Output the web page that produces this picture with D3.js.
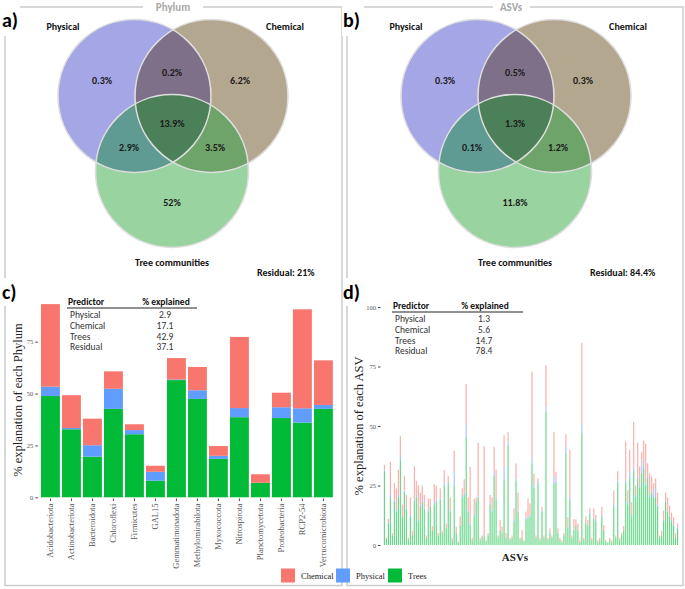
<!DOCTYPE html>
<html>
<head>
<meta charset="utf-8">
<script src="https://cdn.jsdelivr.net/npm/d3@7"></script>
<style>
  body { margin: 0; background: #fff; }
  svg text { font-family: Carlito, "Liberation Sans Narrow", Lato, sans-serif; }
  svg .serif { font-family: "Liberation Serif", "DejaVu Serif", serif; }
</style>
</head>
<body>
<svg id="fig" width="685" height="589"></svg>
<script>
// ---- data ----
// Venn region values: physical only, phys&chem, chemical only, all three, phys&trees, chem&trees, trees only
const vennRegions = ['phys', 'physChem', 'chem', 'all', 'physTree', 'chemTree', 'tree'];
const phylumVenn = ['0.3%', '0.2%', '6.2%', '13.9%', '2.9%', '3.5%', '52%'];
const asvVenn = ['0.3%', '0.5%', '0.3%', '1.3%', '0.1%', '1.2%', '11.8%'];
const phylumResidual = 'Residual: 21%';
const asvResidual = 'Residual: 84.4%';

// panel c: variation explained for each phylum
const phyla = ['Acidobacteriota', 'Actinobacteriota', 'Bacteroidota', 'Chloroflexi', 'Firmicutes', 'GAL15',
  'Gemmatimonadota', 'Methylomirabilota', 'Myxococcota', 'Nitrospirota', 'Planctomycetota',
  'Proteobacteria', 'RCP2-54', 'Verrucomicrobiota'];
const phylumTrees = [48.8, 32.8, 19.6, 42.6, 30.4, 8.0, 56.5, 47.4, 18.5, 38.6, 7.0, 38.2, 36.0, 42.6];
const phylumPhysical = [4.5, 0.6, 5.5, 9.7, 2.0, 4.3, 0.3, 4.2, 1.5, 4.4, 0.0, 5.2, 6.9, 1.9];
const phylumChemical = [39.8, 15.8, 12.8, 8.4, 2.8, 2.9, 10.3, 11.2, 4.7, 34.3, 4.1, 7.0, 47.7, 21.5];

// summary tables
const predictors = ['Physical', 'Chemical', 'Trees', 'Residual'];
const phylumExplained = ['2.9', '17.1', '42.9', '37.1'];
const asvExplained = ['1.3', '5.6', '14.7', '78.4'];

// panel d: variation explained for each ASV
const asvTotal = [33.6, 3, 11, 35, 5, 26, 23.8, 31.7, 45.8, 17, 29, 21, 3, 20, 6, 33.2, 27, 25, 22, 25,
  21, 4, 19.5, 19.5, 8, 25.6, 25, 5, 23.8, 6, 31.5, 9, 29, 20, 3, 39.6, 7.7, 1.5, 12, 23.8,
  27.6, 67.6, 20, 32.9, 3, 19.5, 20, 43, 3, 4, 41.6, 2, 5, 21, 20, 41.3, 31.7, 4, 10.5, 7.7,
  46.2, 5, 47.4, 3, 4, 15.4, 34.3, 22, 3, 6.3, 2, 14, 19.5, 17.5, 72.8, 30, 4, 28, 3, 16,
  4, 75.6, 3, 7, 4, 47.4, 30.8, 7, 3, 2, 5, 46.6, 11.8, 40, 4, 10.8, 10.8, 9, 2, 85,
  3, 12, 10.5, 15.4, 3, 15.4, 12.6, 2, 3, 16, 8.4, 2, 1, 3, 2, 23, 4, 31, 3, 5,
  8, 43.6, 23, 40, 18, 51.8, 25, 43, 33, 39, 43.8, 42.7, 34.3, 30, 28.8, 26, 28, 22, 4, 6,
  14.5, 22, 20, 16.5, 13.6, 11.6, 5, 9];
const asvTrees = [31, 2.5, 9, 20, 4, 18, 14, 20, 35.5, 12, 22, 15, 2, 12, 4, 18, 20, 10, 16, 18,
  15, 3, 14, 16, 6, 17, 18, 4, 19, 5, 25, 7, 26, 14, 2, 25, 5, 1, 8, 20,
  21, 45, 14, 8, 2, 12, 18, 20, 2, 3, 4, 1.5, 4, 17, 14, 29, 19, 3, 6, 5,
  27, 3, 42, 2, 3, 10, 27, 14, 2, 3, 1.5, 11, 11, 12, 34, 24, 3, 26, 2, 14,
  3, 56, 2, 5, 3, 26, 26, 5, 2, 1, 4, 38.6, 7, 19, 3, 6, 8, 6, 1, 47,
  2, 9, 8, 13, 2, 11, 10, 1, 2, 12, 6, 1.5, 1, 2, 1, 16, 3, 26, 2, 4,
  6, 26, 17, 28, 12, 30.8, 20, 28, 24, 30, 32, 25, 28, 20, 22, 20, 20, 16, 3, 4,
  10, 18, 14, 12, 10, 8, 3, 7];
const asvPhysical = [0.5, 0, 0.5, 1, 0, 1, 1, 1, 2, 0, 1, 0.5, 0, 0.5, 0, 1, 1, 0.5, 1, 1,
  0.5, 0, 0.5, 0.5, 0, 1, 1, 0, 0.5, 0, 1, 0, 0.5, 0.5, 0, 6, 0, 0, 0, 0.5,
  1, 6, 0.5, 1, 0, 1, 0.5, 0.5, 0, 0, 0.5, 0, 0, 1, 1, 2, 1, 0, 0.5, 0,
  6, 0, 1, 0, 0, 0.5, 1, 0.5, 0, 0, 0, 0.5, 1, 0.5, 3, 1, 0, 0.5, 0, 0.5,
  0, 2, 0, 0, 0, 3, 1, 0, 0, 0, 0, 3, 0.5, 1, 0, 0.5, 0, 0, 0, 3.6,
  0, 0.5, 0, 0.5, 0, 0.5, 0.5, 0, 0, 0.5, 0, 0, 0, 0, 0, 1, 0, 1, 0, 0,
  0, 1, 1, 3, 1, 2, 1, 1, 1, 3, 4, 1, 1, 1, 1, 1, 4, 1, 0, 0,
  0.5, 0.5, 0.5, 0.5, 0.5, 0.5, 0, 0.5];

const seriesKeys = ['Trees', 'Physical', 'Chemical'];
const legendKeys = ['Chemical', 'Physical', 'Trees'];
const colors = { Chemical: '#F8766D', Physical: '#619CFF', Trees: '#00BA38' };

const svg = d3.select('#fig');
const frameColor = '#cccccc';

// ---- frames ----
svg.append('rect').attr('x', 5).attr('y', 7).attr('width', 337).attr('height', 578.5)
  .attr('fill', 'none').attr('stroke', frameColor).attr('stroke-width', 1.5);
svg.append('rect').attr('x', 347).attr('y', 7).attr('width', 336).attr('height', 578.5)
  .attr('fill', 'none').attr('stroke', frameColor).attr('stroke-width', 1.5);

// white patches where titles / panel letters sit on the frame
[[0, 0, 20, 36], [143, 0, 60, 14], [0, 278, 26, 28], [342, 0, 22, 36], [493, 0, 37, 14], [343, 278, 24, 28]]
  .forEach(r => svg.append('rect').attr('x', r[0]).attr('y', r[1]).attr('width', r[2]).attr('height', r[3]).attr('fill', '#fff'));

// panel letters
[['a)', 2, 27], ['b)', 343, 27], ['c)', 2, 299], ['d)', 343, 299]].forEach(p => {
  svg.append('text').attr('x', p[1]).attr('y', p[2]).text(p[0])
    .style('font-size', '20px').style('font-weight', 'bold').attr('fill', '#000');
});

// ---- Venn diagrams ----
const vennFill = {
  phys: '#a4a6e6', chem: '#b4a78f', tree: '#99d3a0',
  physChem: '#7e7088', physTree: '#5f9b92', chemTree: '#6ea36a', all: '#4c8059'
};
// label positions relative to the tree circle centre
const vennLabelPos = {
  phys: [-70, -91], physChem: [0, -99], chem: [68, -91], all: [0, -48],
  physTree: [-43, -24], chemTree: [43, -24], tree: [0, 31]
};

function drawVenn(id, cx, title, titleX, values, residual, residualX) {
  const r = 76.5;
  const cy = 171;
  const circles = {
    phys: [cx - 37.5, cy - 75],
    chem: [cx + 39.5, cy - 75],
    tree: [cx, cy]
  };
  const g = svg.append('g');
  const defs = svg.append('defs');
  Object.keys(circles).forEach(k => {
    defs.append('clipPath').attr('id', id + k)
      .append('circle').attr('cx', circles[k][0]).attr('cy', circles[k][1]).attr('r', r);
  });
  const circ = (sel, k, fill) => sel.append('circle')
    .attr('cx', circles[k][0]).attr('cy', circles[k][1]).attr('r', r).attr('fill', fill);

  circ(g, 'phys', vennFill.phys);
  circ(g, 'chem', vennFill.chem);
  circ(g, 'tree', vennFill.tree);
  circ(g.append('g').attr('clip-path', `url(#${id}phys)`), 'chem', vennFill.physChem);
  circ(g.append('g').attr('clip-path', `url(#${id}phys)`), 'tree', vennFill.physTree);
  circ(g.append('g').attr('clip-path', `url(#${id}chem)`), 'tree', vennFill.chemTree);
  circ(g.append('g').attr('clip-path', `url(#${id}phys)`).append('g').attr('clip-path', `url(#${id}chem)`), 'tree', vennFill.all);

  Object.keys(circles).forEach(k => {
    g.append('circle').attr('cx', circles[k][0]).attr('cy', circles[k][1]).attr('r', r)
      .attr('fill', 'none').attr('stroke', '#dedede').attr('stroke-width', 1.6);
  });

  vennRegions.forEach((k, i) => {
    g.append('text')
      .attr('x', cx + vennLabelPos[k][0]).attr('y', cy + vennLabelPos[k][1] + 3.5)
      .attr('text-anchor', 'middle')
      .style('font-size', '10px').style('font-weight', 'bold').attr('fill', '#1a1a1a')
      .text(values[i]);
  });

  const lab = (x, y, t, anchor) => g.append('text').attr('x', x).attr('y', y)
    .attr('text-anchor', anchor).style('font-size', '10px').style('font-weight', 'bold')
    .attr('fill', '#111').text(t);
  lab(cx - 109, 30, 'Physical', 'middle');
  lab(cx + 113, 30, 'Chemical', 'middle');
  lab(cx, 266, 'Tree communities', 'middle');
  lab(residualX, 276, residual, 'start');

  svg.append('text').attr('x', titleX).attr('y', 11).attr('text-anchor', 'middle')
    .style('font-size', '11px').style('font-weight', 'bold').attr('fill', '#a8a8a8').text(title);
}

drawVenn('va', 172, 'Phylum', 173, phylumVenn, phylumResidual, 257);
drawVenn('vb', 515, 'ASVs', 511, asvVenn, asvResidual, 590);

// ---- helper for the summary tables ----
function drawTable(x0, x1, yHead, valX, values) {
  const g = svg.append('g');
  g.append('text').attr('x', x0 + 1).attr('y', yHead).text('Predictor')
    .style('font-size', '9.5px').style('font-weight', 'bold').attr('fill', '#111');
  g.append('text').attr('x', valX + 1).attr('y', yHead).attr('text-anchor', 'middle').text('% explained')
    .style('font-size', '9.5px').style('font-weight', 'bold').attr('fill', '#111');
  g.append('line').attr('x1', x0).attr('x2', x1).attr('y1', yHead + 3).attr('y2', yHead + 3)
    .attr('stroke', '#222').attr('stroke-width', 1);
  predictors.forEach((p, i) => {
    const y = yHead + 13 + i * 10.8;
    g.append('text').attr('x', x0 + 3).attr('y', y).text(p)
      .style('font-size', '9.5px').attr('fill', '#333');
    g.append('text').attr('x', valX).attr('y', y).attr('text-anchor', 'middle').text(values[i])
      .style('font-size', '9.5px').attr('fill', '#333');
  });
}

// ---- panel c: stacked bars per phylum ----
const phylumRows = phyla.map((p, i) => ({
  phylum: p, Trees: phylumTrees[i], Physical: phylumPhysical[i], Chemical: phylumChemical[i]
}));
const xC = d3.scaleBand().domain(phyla).range([37.85, 336]).paddingInner(0.1).paddingOuter(0.15);
const yC = d3.scaleLinear().domain([0, 100]).range([497.3, 289.8]);
const stackC = d3.stack().keys(seriesKeys)(phylumRows);

const gc = svg.append('g');
gc.selectAll('g.layer').data(stackC).enter().append('g')
  .attr('fill', d => colors[d.key])
  .selectAll('rect').data(d => d).enter().append('rect')
  .attr('x', d => xC(d.data.phylum))
  .attr('width', xC.bandwidth())
  .attr('y', d => yC(d[1]))
  .attr('height', d => yC(d[0]) - yC(d[1]));

const axC = gc.append('g').attr('transform', 'translate(37.85,0)')
  .call(d3.axisLeft(yC).tickValues([0, 25, 50, 75]).tickSize(2.5).tickPadding(2));
axC.select('.domain').remove();
axC.selectAll('line').attr('stroke', '#444');
axC.selectAll('text').attr('class', 'serif').style('font-size', '6.5px').attr('fill', '#555');

const axCx = gc.append('g').attr('transform', 'translate(0,498.5)')
  .call(d3.axisBottom(xC).tickSize(2.5).tickPadding(2));
axCx.select('.domain').remove();
axCx.selectAll('line').attr('stroke', '#444');
axCx.selectAll('text').attr('class', 'serif').style('font-size', '8.5px').attr('fill', '#555')
  .attr('transform', 'rotate(-90)').attr('text-anchor', 'end')
  .attr('x', -5).attr('y', 0).attr('dy', '0.35em');

gc.append('text').attr('class', 'serif')
  .attr('transform', 'rotate(-90)').attr('x', -400).attr('y', 22)
  .attr('text-anchor', 'middle').style('font-size', '12.5px').attr('fill', '#222')
  .text('% explanation of each Phylum');

drawTable(67, 197, 305, 165, phylumExplained);

// ---- panel d: stacked bars per ASV ----
const asvIds = asvTotal.map((d, i) => 'ASV' + (i + 1));
const asvRows = asvIds.map((id, i) => ({
  asv: id,
  Trees: asvTrees[i],
  Physical: asvPhysical[i],
  Chemical: Math.max(0, asvTotal[i] - asvTrees[i] - asvPhysical[i])
}));
const xD = d3.scaleBand().domain(asvIds).range([383, 679]).padding(0.42);
const yD = d3.scaleLinear().domain([0, 100]).range([545, 307]);
const stackD = d3.stack().keys(seriesKeys)(asvRows);

const gd = svg.append('g');
gd.selectAll('g.layer').data(stackD).enter().append('g')
  .attr('fill', d => colors[d.key]).attr('fill-opacity', 0.6)
  .selectAll('rect').data(d => d).enter().append('rect')
  .attr('x', d => xD(d.data.asv))
  .attr('width', xD.bandwidth())
  .attr('y', d => yD(d[1]))
  .attr('height', d => yD(d[0]) - yD(d[1]));

const axD = gd.append('g').attr('transform', 'translate(380.5,0)')
  .call(d3.axisLeft(yD).tickValues([0, 25, 50, 75, 100]).tickSize(2.5).tickPadding(2));
axD.select('.domain').remove();
axD.selectAll('line').attr('stroke', '#444');
axD.selectAll('text').attr('class', 'serif').style('font-size', '6.5px').attr('fill', '#555');

gd.append('text').attr('class', 'serif')
  .attr('transform', 'rotate(-90)').attr('x', -426).attr('y', 363)
  .attr('text-anchor', 'middle').style('font-size', '12.5px').attr('fill', '#222')
  .text('% explanation of each ASV');

gd.append('text').attr('class', 'serif').attr('x', 515).attr('y', 561)
  .attr('text-anchor', 'middle').style('font-size', '11px').style('font-weight', 'bold').attr('fill', '#222')
  .text('ASVs');

drawTable(392, 523, 309, 484, asvExplained);

// ---- legend ----
const legendX = [281, 336, 388];
const gl = svg.append('g');
legendKeys.forEach((k, i) => {
  gl.append('rect').attr('x', legendX[i]).attr('y', 568.5).attr('width', 14).attr('height', 14)
    .attr('fill', colors[k]);
  gl.append('text').attr('class', 'serif').attr('x', legendX[i] + 20).attr('y', 578.5)
    .style('font-size', '8.5px').attr('fill', '#222').text(k);
});
</script>
</body>
</html>
